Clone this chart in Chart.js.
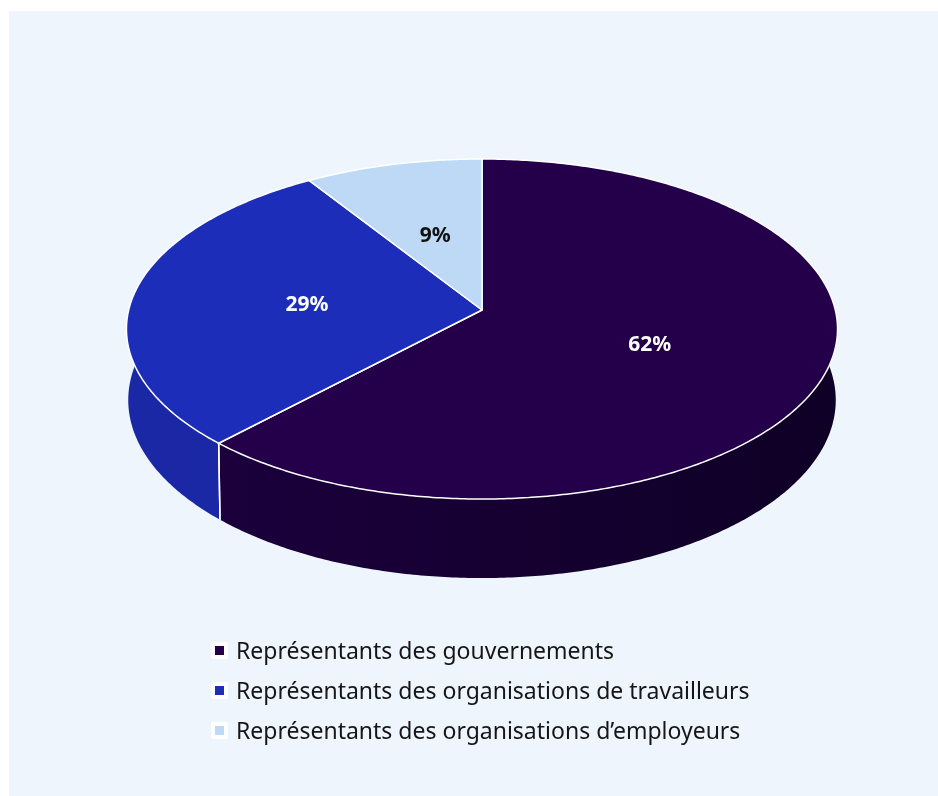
<!DOCTYPE html>
<html lang="fr">
<head>
<meta charset="utf-8">
<title>Composition des délégations</title>
<script src="https://cdn.jsdelivr.net/npm/chart.js@4/dist/chart.umd.min.js"></script>
<style>
  html, body { margin: 0; padding: 0; background: #ffffff; }
  #stage { position: relative; width: 938px; height: 796px; overflow: hidden; }
  #panel { position: absolute; left: 9px; top: 11px; width: 929px; height: 785px; background: #eef5fc; }
  #pie { position: absolute; left: 0; top: 0; }
  #legend { position: absolute; left: 211px; top: 630px; font-family: "Noto Sans", sans-serif; font-size: 23px; color: #161616; }
  #legend .row { display: flex; align-items: center; height: 40px; white-space: nowrap; }
  #legend .box { width: 17px; height: 17px; background: #ffffff; display: flex; align-items: center; justify-content: center; margin-right: 8px; border-radius: 2px; }
  #legend .swatch { width: 9px; height: 9px; }
</style>
</head>
<body>
<div id="stage">
  <div id="panel"></div>
  <canvas id="pie" width="938" height="796"></canvas>
  <div id="legend"></div>
</div>
<script>
// Répartition des délégués par groupe (en %)
const groups = [
  "Représentants des gouvernements",
  "Représentants des organisations de travailleurs",
  "Représentants des organisations d’employeurs"
];
const shares = [62, 29, 9];

// Couleurs : face supérieure, flanc (gauche → droite), étiquette
const topColors = ["#25004a", "#1c2dba", "#bdd9f5"];
const sideColorsLeft = ["#1d003f", "#1b28a6", "#9fbde0"];
const sideColorsRight = ["#0f0026", "#19249c", "#93b2d6"];
const labelColors = ["#ffffff", "#ffffff", "#111111"];

// Vue en perspective du disque (facteurs relatifs au rayon calculé par Chart.js)
const VIEW = {
  spanX: 1.1397,      // demi-largeur projetée
  spanY: 0.5416,      // demi-profondeur projetée
  depth: 0.2265,      // épaisseur du disque
  perspective: 0.1118,
  baseShrink: 0.995
};

const pie3d = {
  id: "pie3d",
  beforeDatasetDraw(chart, args) {
    const meta = chart.getDatasetMeta(args.index);
    const arcs = meta.data;
    if (!arcs.length) return false;
    const ctx = chart.ctx;
    const { x: cx, y: cy, outerRadius: R } = arcs[0].getProps(["x", "y", "outerRadius"], true);
    const A = R * VIEW.spanX, B = R * VIEW.spanY, D = R * VIEW.depth, P = VIEW.perspective, S = VIEW.baseShrink;

    const topPt = (t, r = 1) => {
      const X = Math.cos(t) * r, Z = Math.sin(t) * r, w = 1 - P * Z;
      return [cx + A * X / w, cy + B * Z / w];
    };
    const basePt = (t) => {
      const X = Math.cos(t), Z = Math.sin(t), w = 1 - P * Z;
      return [cx + A * X * S / w, cy + (B * Z + D) / w];
    };
    const steps = (a, b) => {
      const n = Math.max(2, Math.ceil(Math.abs(b - a) / 0.01));
      const out = [];
      for (let i = 0; i <= n; i++) out.push(a + (b - a) * i / n);
      return out;
    };

    const slices = arcs.map((arc, i) => {
      const p = arc.getProps(["startAngle", "endAngle"], true);
      return { i, a0: p.startAngle, a1: p.endAngle };
    });

    // Flancs extérieurs, du fond vers l'avant
    const order = slices.slice().sort((s, t) =>
      Math.sin((s.a0 + s.a1) / 2) - Math.sin((t.a0 + t.a1) / 2));
    order.forEach(s => {
      const ts = steps(s.a0, s.a1);
      ctx.save();
      ctx.beginPath();
      ts.forEach((t, k) => { const [x, y] = topPt(t); k ? ctx.lineTo(x, y) : ctx.moveTo(x, y); });
      ts.slice().reverse().forEach(t => { const [x, y] = basePt(t); ctx.lineTo(x, y); });
      ctx.closePath();
      const g = ctx.createLinearGradient(cx - A, 0, cx + A, 0);
      g.addColorStop(0, sideColorsLeft[s.i]);
      g.addColorStop(1, sideColorsRight[s.i]);
      ctx.fillStyle = g;
      ctx.fill();
      ctx.restore();
    });

    // Arêtes verticales visibles entre les parts
    ctx.save();
    ctx.strokeStyle = "#ffffff";
    ctx.lineWidth = 1.5;
    slices.forEach(s => {
      [s.a0, s.a1].forEach(t => {
        if (Math.sin(t) > 0.2) {
          const [x0, y0] = topPt(t), [x1, y1] = basePt(t);
          ctx.beginPath(); ctx.moveTo(x0, y0); ctx.lineTo(x1, y1); ctx.stroke();
        }
      });
    });
    ctx.restore();

    // Faces supérieures
    slices.forEach(s => {
      ctx.save();
      ctx.beginPath();
      ctx.moveTo(cx, cy);
      steps(s.a0, s.a1).forEach(t => { const [x, y] = topPt(t); ctx.lineTo(x, y); });
      ctx.closePath();
      ctx.fillStyle = topColors[s.i];
      ctx.fill();
      ctx.lineWidth = 1.5;
      ctx.lineJoin = "round";
      ctx.strokeStyle = "#ffffff";
      ctx.stroke();
      ctx.restore();
    });

    // Étiquettes de pourcentage
    const total = shares.reduce((a, b) => a + b, 0);
    ctx.save();
    ctx.font = "bold 21px 'Noto Sans', sans-serif";
    ctx.textAlign = "center";
    ctx.textBaseline = "middle";
    slices.forEach(s => {
      const [x, y] = topPt((s.a0 + s.a1) / 2, 0.5);
      ctx.fillStyle = labelColors[s.i];
      ctx.fillText(Math.round(shares[s.i] / total * 100) + "%", x, y + 3);
    });
    ctx.restore();
    return false;
  }
};

const chart = new Chart(document.getElementById("pie"), {
  type: "pie",
  data: {
    labels: groups,
    datasets: [{ data: shares, backgroundColor: topColors, borderWidth: 0 }]
  },
  options: {
    responsive: false,
    animation: false,
    events: [],
    layout: { padding: { left: 129, right: 103, top: 0, bottom: 176 } },
    plugins: { legend: { display: false }, tooltip: { enabled: false } }
  },
  plugins: [pie3d]
});

// Légende HTML alignée à gauche
const legend = document.getElementById("legend");
groups.forEach((name, i) => {
  const row = document.createElement("div");
  row.className = "row";
  const box = document.createElement("span");
  box.className = "box";
  const sw = document.createElement("span");
  sw.className = "swatch";
  sw.style.background = topColors[i];
  box.appendChild(sw);
  const txt = document.createElement("span");
  txt.textContent = name;
  row.appendChild(box);
  row.appendChild(txt);
  legend.appendChild(row);
});
</script>
</body>
</html>
